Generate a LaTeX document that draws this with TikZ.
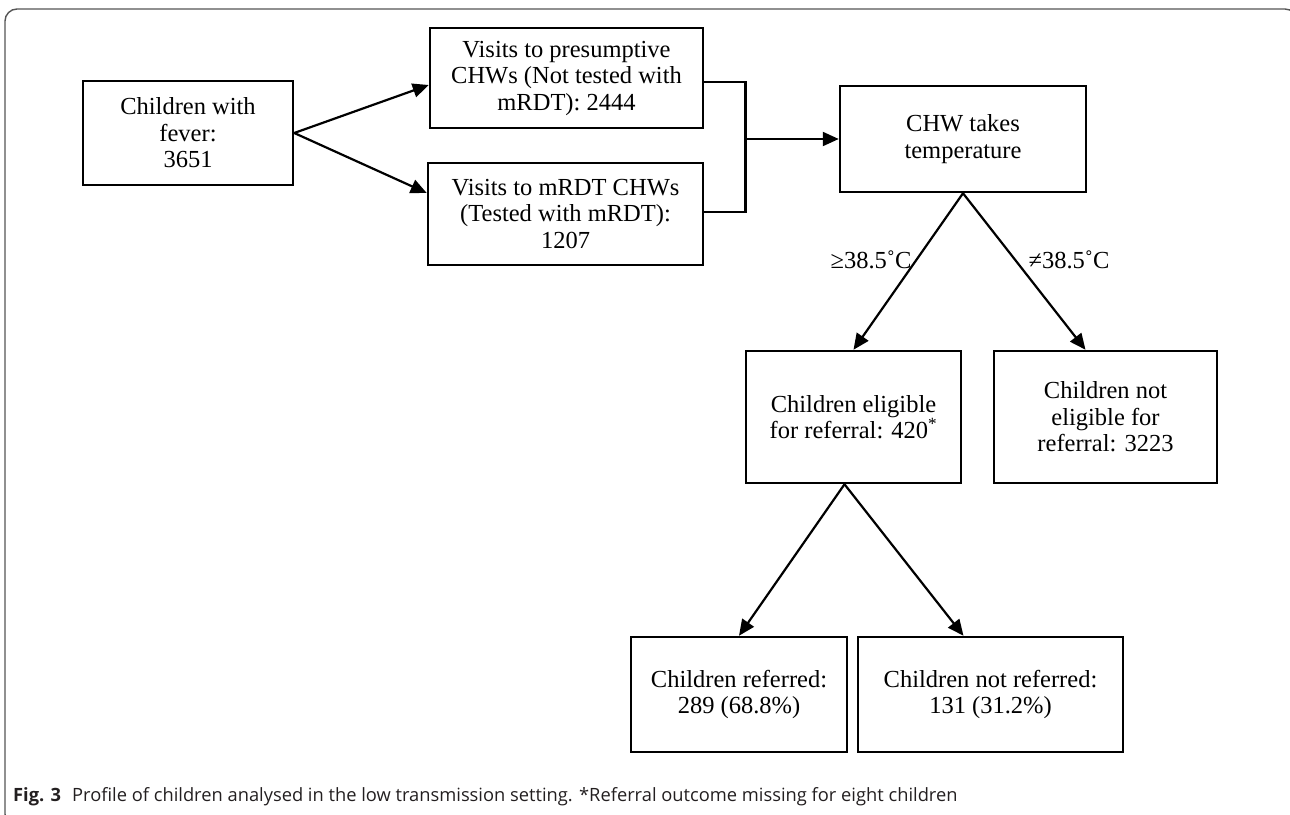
\documentclass[tikz,border=0pt]{standalone}
\usepackage{fontspec}
\setmainfont{Liberation Serif}
\newfontfamily\capfont{Open Sans}
\usetikzlibrary{arrows.meta, positioning}
\definecolor{framegray}{RGB}{85,85,85}
\definecolor{captext}{RGB}{35,31,32}

\begin{document}
\begin{tikzpicture}[x=1pt, y=-1pt,
    box/.style={draw, line width=2.5pt, align=center, inner sep=0pt,
                font=\fontsize{24.5}{26.5}\selectfont},
    arrow/.style={-{Triangle[length=16pt,width=14pt]}, line width=2.2pt},
    link/.style={line width=2.5pt},
    cond/.style={font=\fontsize{24.5}{26.5}\selectfont}
  ]
    \useasboundingbox (0,0) rectangle (1290,814);
    \clip (0,0) rectangle (1290,814);

    % frame
    \draw[framegray, line width=1.4pt, rounded corners=12pt]
      (1297,40) -- (1297,9) -- (5,9) -- (5,826) -- (40,826);

    \node[box, minimum width=210pt, minimum height=104pt] (fever) at (188,133) {Children with\\fever:\\3651};
    \node[box, minimum width=273pt, minimum height=100pt] (presum) at (566.5,78) {Visits to presumptive\\CHWs (Not tested with\\mRDT): 2444};
    \node[box, minimum width=275pt, minimum height=102pt] (mrdt) at (565.5,214) {Visits to mRDT CHWs\\(Tested with mRDT):\\1207};
    \node[box, minimum width=246pt, minimum height=106pt] (chw) at (963,139) {CHW takes\\temperature};
    \node[box, minimum width=215pt, minimum height=132pt] (elig) at (853.5,417) {Children eligible\\for referral: 420\textsuperscript{*}};
    \node[box, minimum width=223pt, minimum height=132pt] (notelig) at (1105.5,417) {Children not\\eligible for\\referral: 3223};
    \node[box, minimum width=216pt, minimum height=115pt] (ref) at (739,694.5) {Children referred:\\289 (68.8\%)};
    \node[box, minimum width=265pt, minimum height=115pt] (notref) at (990.5,694.5) {Children not referred:\\131 (31.2\%)};

    \draw[arrow] (fever.east) -- ([yshift=-7pt]presum.west);
    \draw[arrow] (fever.east) -- ([yshift=21pt]mrdt.west);

    % bracket joining both visit boxes
    \coordinate (join) at (745.5,139);
    \draw[link] ([yshift=-4pt]presum.east) -| (join) |- ([yshift=2pt]mrdt.east);
    \draw[arrow] (join) -- (chw.west);

    \draw[arrow] (chw.south) -- (elig.north);
    \draw[arrow] (chw.south) -- ([xshift=-20pt]notelig.north);
    \node[cond] (hot) at (871,260) {≥38.5˚C};
    \node[cond] (nothot) at (1069,260) {≠38.5˚C};

    \draw[arrow] ([xshift=-9pt]elig.south) -- (ref.north);
    \draw[arrow] ([xshift=-9pt]elig.south) -- ([xshift=-27pt]notref.north);

    \node[anchor=west, inner sep=0pt, text=captext,
          font=\capfont\fontsize{18.3}{21}\selectfont] (caption) at (13,797)
      {\textbf{Fig. 3}\hspace{0.6em}Profile of children analysed in the low transmission setting. *Referral outcome missing for eight children};
  \end{tikzpicture}
\end{document}
